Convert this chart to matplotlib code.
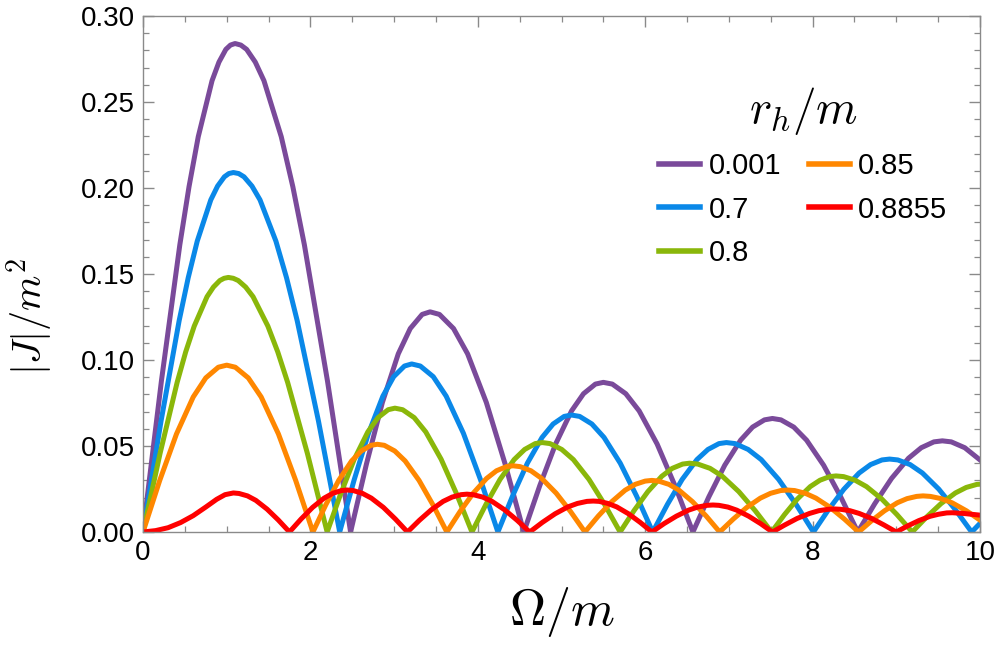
import matplotlib
matplotlib.use("Agg")
import matplotlib.pyplot as plt
from matplotlib.ticker import MultipleLocator

# ---------------- data ----------------
labels = ["0.001", "0.7", "0.8", "0.85", "0.8855"]
colors = ["#7A4A9A", "#0A88E8", "#8AB70A", "#FF8700", "#FF0000"]

omega_purple = [0, 0.22, 0.44, 0.55, 0.66, 0.825, 0.9075, 0.99, 1.045, 1.10, 1.169, 1.238, 1.3415, 1.445,
                1.652, 1.79, 1.928, 2.204, 2.48,
                2.67, 2.86, 3.05, 3.193, 3.335, 3.43, 3.542, 3.71, 3.878, 4.102, 4.326, 4.55,
                4.74, 4.93, 5.12, 5.263, 5.405, 5.50, 5.607, 5.768, 5.928, 6.142, 6.356, 6.57,
                6.76, 6.95, 7.14, 7.283, 7.425, 7.52, 7.622, 7.775, 7.928, 8.132, 8.336, 8.54,
                8.742, 8.944, 9.146, 9.298, 9.449, 9.55, 9.657, 9.818, 10.0]
j_purple = [0, 0.0878, 0.1670, 0.2008, 0.2298, 0.2624, 0.2732, 0.2806, 0.2831, 0.284, 0.2831, 0.2806, 0.2732, 0.2624,
            0.2298, 0.2008, 0.1670, 0.0878, 0,
            0.0396, 0.0753, 0.1036, 0.1183, 0.1265, 0.128, 0.1265, 0.1183, 0.1036, 0.0753, 0.0396, 0,
            0.0269, 0.0512, 0.0704, 0.0804, 0.0860, 0.087, 0.0860, 0.0804, 0.0704, 0.0512, 0.0269, 0,
            0.0204, 0.0388, 0.0534, 0.0610, 0.0652, 0.066, 0.0652, 0.0610, 0.0534, 0.0388, 0.0204, 0,
            0.0164, 0.0312, 0.0429, 0.0490, 0.0524, 0.053, 0.0524, 0.0490, 0.0419]

omega_blue = [0, 0.216, 0.432, 0.54, 0.648, 0.81, 0.891, 0.972, 1.026, 1.08, 1.1435, 1.207, 1.302, 1.398,
              1.588, 1.715, 1.842, 2.096, 2.35,
              2.522, 2.694, 2.866, 2.995, 3.124, 3.21, 3.313, 3.468, 3.622, 3.828, 4.034, 4.24,
              4.416, 4.592, 4.768, 4.90, 5.032, 5.12, 5.217, 5.363, 5.508, 5.702, 5.896, 6.09,
              6.266, 6.442, 6.618, 6.75, 6.882, 6.97, 7.074, 7.23, 7.386, 7.594, 7.802, 8.01,
              8.192, 8.374, 8.556, 8.693, 8.829, 8.92, 9.018, 9.165, 9.312, 9.508, 9.704, 9.90, 10.0]
j_blue = [0, 0.0646, 0.1229, 0.1478, 0.1691, 0.1931, 0.2011, 0.2065, 0.2084, 0.209, 0.2084, 0.2065, 0.2011, 0.1931,
          0.1691, 0.1478, 0.1229, 0.0646, 0,
          0.0302, 0.0574, 0.0790, 0.0903, 0.0965, 0.0977, 0.0965, 0.0903, 0.0790, 0.0574, 0.0302, 0,
          0.0210, 0.0400, 0.0550, 0.0628, 0.0672, 0.068, 0.0672, 0.0628, 0.0550, 0.0400, 0.0210, 0,
          0.0161, 0.0306, 0.0421, 0.0480, 0.0514, 0.052, 0.0514, 0.0480, 0.0421, 0.0306, 0.0161, 0,
          0.0131, 0.0249, 0.0343, 0.0392, 0.0419, 0.0424, 0.0419, 0.0392, 0.0343, 0.0249, 0.0131, 0, 0.005]

omega_green = [0, 0.204, 0.408, 0.51, 0.612, 0.765, 0.8415, 0.918, 0.969, 1.02, 1.079, 1.138, 1.2265, 1.315,
               1.492, 1.61, 1.728, 1.964, 2.20,
               2.362, 2.524, 2.686, 2.808, 2.929, 3.01, 3.102, 3.24, 3.378, 3.562, 3.746, 3.93,
               4.098, 4.266, 4.434, 4.56, 4.686, 4.77, 4.863, 5.003, 5.142, 5.328, 5.514, 5.70,
               5.866, 6.032, 6.198, 6.323, 6.447, 6.53, 6.628, 6.775, 6.922, 7.118, 7.314, 7.51,
               7.664, 7.818, 7.972, 8.088, 8.203, 8.28, 8.371, 8.508, 8.644, 8.826, 9.008, 9.19,
               9.362, 9.534, 9.706, 9.835, 9.964, 10.0]
j_green = [0, 0.0457, 0.0870, 0.1047, 0.1197, 0.1368, 0.1424, 0.1462, 0.1475, 0.148, 0.1475, 0.1462, 0.1424, 0.1368,
           0.1197, 0.1047, 0.0870, 0.0457, 0,
           0.0222, 0.0423, 0.0582, 0.0665, 0.0711, 0.072, 0.0711, 0.0665, 0.0582, 0.0423, 0.0222, 0,
           0.0161, 0.0306, 0.0421, 0.0480, 0.0514, 0.052, 0.0514, 0.0480, 0.0421, 0.0306, 0.0161, 0,
           0.0124, 0.0235, 0.0324, 0.0370, 0.0395, 0.040, 0.0395, 0.0370, 0.0324, 0.0235, 0.0124, 0,
           0.0101, 0.0192, 0.0264, 0.0301, 0.0322, 0.0326, 0.0322, 0.0301, 0.0264, 0.0192, 0.0101, 0,
           0.0087, 0.0165, 0.0227, 0.0259, 0.0277, 0.0278]

omega_orange = [0, 0.2, 0.4, 0.6, 0.75, 0.9, 1.00, 1.103, 1.258, 1.412, 1.618, 1.824, 2.03,
                2.184, 2.338, 2.492, 2.608, 2.723, 2.80, 2.883, 3.008, 3.132, 3.298, 3.464, 3.63,
                3.788, 3.946, 4.104, 4.223, 4.341, 4.42, 4.506, 4.635, 4.764, 4.936, 5.108, 5.28,
                5.44, 5.60, 5.76, 5.88, 6.00, 6.08, 6.161, 6.283, 6.404, 6.566, 6.728, 6.89,
                7.052, 7.214, 7.376, 7.498, 7.619, 7.70, 7.785, 7.913, 8.04, 8.21, 8.38, 8.55,
                8.704, 8.858, 9.012, 9.128, 9.243, 9.32, 9.407, 9.536, 9.666, 9.839, 10.0]
j_orange = [0, 0.0300, 0.0570, 0.0785, 0.0896, 0.0958, 0.097, 0.0958, 0.0896, 0.0785, 0.0570, 0.0300, 0,
            0.0158, 0.0300, 0.0413, 0.0471, 0.0504, 0.051, 0.0504, 0.0471, 0.0413, 0.0300, 0.0158, 0,
            0.0119, 0.0226, 0.0311, 0.0356, 0.0380, 0.0385, 0.0380, 0.0356, 0.0311, 0.0226, 0.0119, 0,
            0.0093, 0.0176, 0.0243, 0.0277, 0.0296, 0.030, 0.0296, 0.0277, 0.0243, 0.0176, 0.0093, 0,
            0.0075, 0.0143, 0.0197, 0.0225, 0.0241, 0.0244, 0.0241, 0.0225, 0.0197, 0.0143, 0.0075, 0,
            0.0065, 0.0123, 0.0170, 0.0194, 0.0207, 0.021, 0.0207, 0.0194, 0.0170, 0.0123, 0.0069]

omega_red = [0, 0.15, 0.30, 0.45, 0.60, 0.75, 0.88, 0.98, 1.08, 1.147, 1.248, 1.348, 1.482, 1.616, 1.75,
             1.888, 2.026, 2.164, 2.268, 2.371, 2.44, 2.512, 2.62, 2.728, 2.872, 3.016, 3.16,
             3.302, 3.444, 3.586, 3.693, 3.799, 3.87, 3.945, 4.058, 4.17, 4.32, 4.47, 4.62,
             4.772, 4.924, 5.076, 5.19, 5.304, 5.38, 5.45, 5.555, 5.66, 5.80, 5.94, 6.08,
             6.226, 6.372, 6.518, 6.628, 6.737, 6.81, 6.881, 6.988, 7.094, 7.236, 7.378, 7.52,
             7.668, 7.816, 7.964, 8.075, 8.186, 8.26, 8.334, 8.445, 8.556, 8.704, 8.852, 9.00,
             9.134, 9.268, 9.402, 9.503, 9.603, 9.67, 9.80, 10.0]
j_red = [0, 0.0008, 0.0025, 0.0055, 0.0095, 0.0145, 0.0190, 0.0217, 0.0227, 0.0224, 0.0210, 0.0184, 0.0133, 0.0070, 0,
         0.0075, 0.0143, 0.0197, 0.0225, 0.0241, 0.0244, 0.0241, 0.0225, 0.0197, 0.0143, 0.0075, 0,
         0.0068, 0.0129, 0.0178, 0.0203, 0.0217, 0.022, 0.0217, 0.0203, 0.0178, 0.0129, 0.0068, 0,
         0.0056, 0.0106, 0.0146, 0.0166, 0.0178, 0.018, 0.0178, 0.0166, 0.0146, 0.0106, 0.0056, 0,
         0.0049, 0.0092, 0.0127, 0.0145, 0.0155, 0.0157, 0.0155, 0.0145, 0.0127, 0.0092, 0.0049, 0,
         0.0041, 0.0079, 0.0108, 0.0124, 0.0132, 0.0134, 0.0132, 0.0124, 0.0108, 0.0079, 0.0041, 0,
         0.0035, 0.0066, 0.0091, 0.0103, 0.0111, 0.0112, 0.0108, 0.0098]

x_ticks = [0, 2, 4, 6, 8, 10]
y_ticks = [0.00, 0.05, 0.10, 0.15, 0.20, 0.25, 0.30]
y_ticklabels = ["0.00", "0.05", "0.10", "0.15", "0.20", "0.25", "0.30"]

# ---------------- figure ----------------
plt.rcParams["mathtext.fontset"] = "cm"
plt.rcParams["font.family"] = ["Liberation Sans", "DejaVu Sans"]

fig = plt.figure(figsize=(9.97, 6.53), dpi=100)
ax = fig.add_axes([143 / 997, 1 - 532 / 653, (980 - 143) / 997, (532 - 16) / 653])

series = [(omega_purple, j_purple), (omega_blue, j_blue), (omega_green, j_green),
          (omega_orange, j_orange), (omega_red, j_red)]
for (om, jj), c, lab in zip(series, colors, labels):
    ax.plot(om, jj, color=c, lw=3.6, label=lab, solid_joinstyle="round")

ax.set_xlim(0, 10)
ax.set_ylim(0, 0.30)
ax.set_xticks(x_ticks)
ax.set_xticklabels([str(v) for v in x_ticks])
ax.set_yticks(y_ticks)
ax.set_yticklabels(y_ticklabels)
ax.xaxis.set_minor_locator(MultipleLocator(0.5))
ax.yaxis.set_minor_locator(MultipleLocator(0.01))

tick_gray = "#8a8a8a"
ax.tick_params(which="both", direction="in", top=True, right=True,
               color=tick_gray, labelsize=20, labelcolor="black")
ax.tick_params(which="major", length=8, width=1.0, pad=6)
ax.tick_params(which="minor", length=4.5, width=0.9)
for s in ax.spines.values():
    s.set_color(tick_gray)
    s.set_linewidth(1.0)

ax.set_xlabel(r"$\Omega/m$", fontsize=36)
ax.xaxis.set_label_coords(0.5, -0.103)
ax.set_ylabel(r"$|J|/m^2$", fontsize=29)
ax.yaxis.set_label_coords(-0.105, 0.417)

leg = ax.legend(ncol=2, frameon=False, title=r"$r_h/m$", title_fontsize=34,
                fontsize=21, loc="upper left", bbox_to_anchor=(0.599, 0.895),
                handlelength=1.4, handletextpad=0.3, columnspacing=0.95,
                labelspacing=0.53, borderpad=0)
for line in leg.get_lines():
    line.set_linewidth(4)

fig.savefig("out.png", dpi=100)
